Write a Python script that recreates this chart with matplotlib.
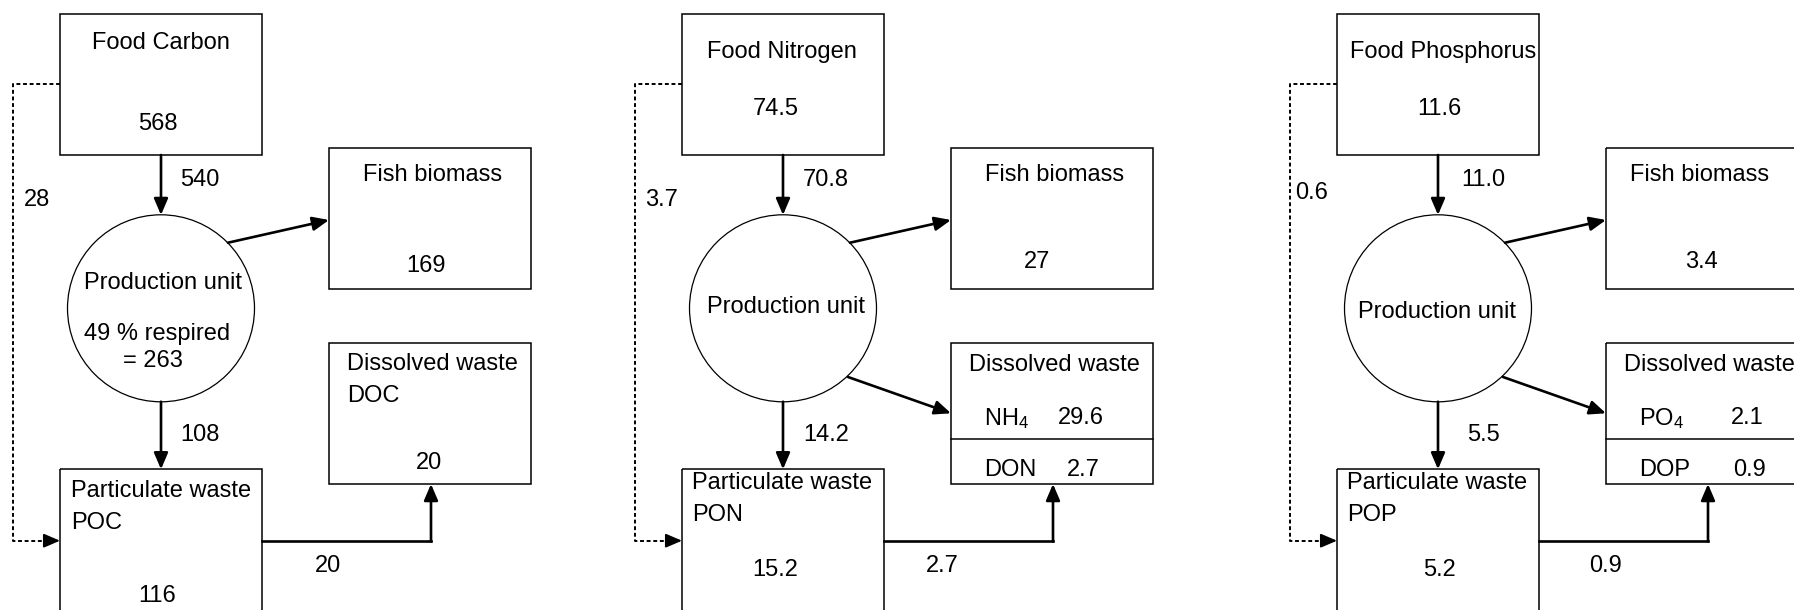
import matplotlib.pyplot as plt
from matplotlib.patches import Rectangle, Ellipse

plt.rcParams['font.family'] = ['Liberation Sans', 'DejaVu Sans']
plt.rcParams['mathtext.fontset'] = 'custom'
plt.rcParams['mathtext.rm'] = 'Liberation Sans'
plt.rcParams['mathtext.it'] = 'Liberation Sans'

# values (one entry per element: C, N, P)
food_names = ['Food Carbon', 'Food Nitrogen', 'Food Phosphorus']
food_totals = ['568', '74.5', '11.6']
feed_eaten = ['540', '70.8', '11.0']
feed_lost = ['28', '3.7', '0.6']
fish_biomass = ['169', '27', '3.4']
respired = ['49 % respired', None, None]
respired_amount = ['= 263', None, None]
to_particulate = ['108', '14.2', '5.5']
particulate_names = ['POC', 'PON', 'POP']
particulate_totals = ['116', '15.2', '5.2']
leached = ['20', '2.7', '0.9']
inorganic_names = [None, 'NH$_4$', 'PO$_4$']
inorganic_values = [None, '29.6', '2.1']
organic_names = ['DOC', 'DON', 'DOP']
organic_values = ['20', '2.7', '0.9']

# layout (pixels)
x_left = [60, 682, 1337]
BW = 202           # box width
RX = 269           # right column offset
W, H = 1794, 610
FS = 17
LW_BOX = 1.1
LW_ARR = 1.9
DY = 3             # text baseline nudge

# per-panel text offsets from x_left
food_title_x = [101, 100, 106]
food_title_y = [40, 49, 49]
food_val_x = [98, 94, 102]
food_val_y = [121, 106, 106]
flow_x = [140, 144, 146]
lost_x = [-23, -20, -25]
lost_y = [197, 197, 190]
prod_x = [104, 104, 100]
fish_title_x = [373, 373, 363]
fish_val_x = [366, 355, 364]
fish_val_y = [263, 259, 259]
dis_val_x = [None, 399, 410]
part_val_x = [97, 93, 102]
leach_x = [268, 260, 269]

fig = plt.figure(figsize=(W / 100, H / 100), dpi=100)
ax = fig.add_axes([0, 0, 1, 1])
ax.set_xlim(0, W)
ax.set_ylim(H, 0)
ax.axis('off')


def box(x, y0, y1, w=BW):
    ax.add_patch(Rectangle((x, y0), w, y1 - y0, fill=False, ec='black', lw=LW_BOX))


def arrow(p0, p1, ls='-', lw=LW_ARR):
    ax.annotate('', xy=p1, xytext=p0,
                arrowprops=dict(arrowstyle='-|>,head_length=0.7,head_width=0.3',
                                color='black', lw=lw, linestyle=ls,
                                shrinkA=0, shrinkB=0, mutation_scale=14))


def txt(x, y, s, ha='center'):
    ax.text(x, y + DY, s, fontsize=FS, ha=ha, va='center', linespacing=1.55)


for i, x0 in enumerate(x_left):
    cx = x0 + 101
    # food box
    box(x0, 13.5, 155)
    txt(x0 + food_title_x[i], food_title_y[i], food_names[i])
    txt(x0 + food_val_x[i], food_val_y[i], food_totals[i])

    # food -> production unit
    arrow((cx, 155), (cx, 215))
    txt(x0 + flow_x[i], 177, feed_eaten[i])

    # production unit
    ax.add_patch(Ellipse((cx, 308.3), 187, 187, fill=False, ec='black', lw=0.9))
    if respired[i]:
        txt(x0 + 103, 280, 'Production unit')
        txt(x0 + 97, 331, respired[i])
        txt(x0 + 93, 358, respired_amount[i])
    else:
        txt(x0 + prod_x[i], 304 if i == 1 else 309, 'Production unit')

    # fish biomass
    box(x0 + RX, 148.3, 289.3)
    arrow((x0 + 168, 242.7), (x0 + RX, 220))
    txt(x0 + fish_title_x[i], 172, 'Fish biomass')
    txt(x0 + fish_val_x[i], fish_val_y[i], fish_biomass[i])

    # dissolved waste
    box(x0 + RX, 342.7, 484)
    if inorganic_names[i] is None:
        txt(x0 + 287, 377, 'Dissolved waste\n' + organic_names[i], ha='left')
        txt(x0 + 369, 460, organic_values[i])
    else:
        ax.plot([x0 + RX, x0 + RX + BW], [439.3, 439.3], color='black', lw=LW_BOX)
        arrow((x0 + 166, 377), (x0 + RX, 413.3))
        txt(x0 + 287, 362, 'Dissolved waste', ha='left')
        txt(x0 + 302, 416, inorganic_names[i], ha='left')
        txt(x0 + dis_val_x[i], 415, inorganic_values[i])
        txt(x0 + 302, 467, organic_names[i], ha='left')
        txt(x0 + dis_val_x[i] + 2, 467, organic_values[i])

    # production unit -> particulate waste
    arrow((cx, 401.7), (cx, 469.3))
    txt(x0 + flow_x[i], 432, to_particulate[i])

    # particulate waste
    box(x0, 469.3, 640)
    if i == 0:
        txt(x0 + 11, 504, 'Particulate waste\n' + particulate_names[i], ha='left')
        txt(x0 + part_val_x[i], 593, particulate_totals[i])
    else:
        txt(x0 + 10, 496, 'Particulate waste\n' + particulate_names[i], ha='left')
        txt(x0 + part_val_x[i], 567, particulate_totals[i])

    # particulate -> dissolved
    xr = x0 + 371
    ax.plot([x0 + BW, xr], [540.7, 540.7], color='black', lw=LW_ARR,
            solid_capstyle='projecting', solid_joinstyle='miter')
    arrow((xr, 541.5), (xr, 484))
    txt(x0 + leach_x[i], 563, leached[i])

    # uneaten feed (dashed)
    xd = x0 - 47
    ax.plot([x0, xd, xd, x0 - 12], [83.5, 83.5, 540.7, 540.7], color='black', lw=1.4,
            linestyle=(0, (2, 1.4)))
    arrow((x0 - 14, 540.7), (x0, 540.7), lw=1.4)
    txt(x0 + lost_x[i], lost_y[i], feed_lost[i])

fig.savefig('out.png', dpi=100)
